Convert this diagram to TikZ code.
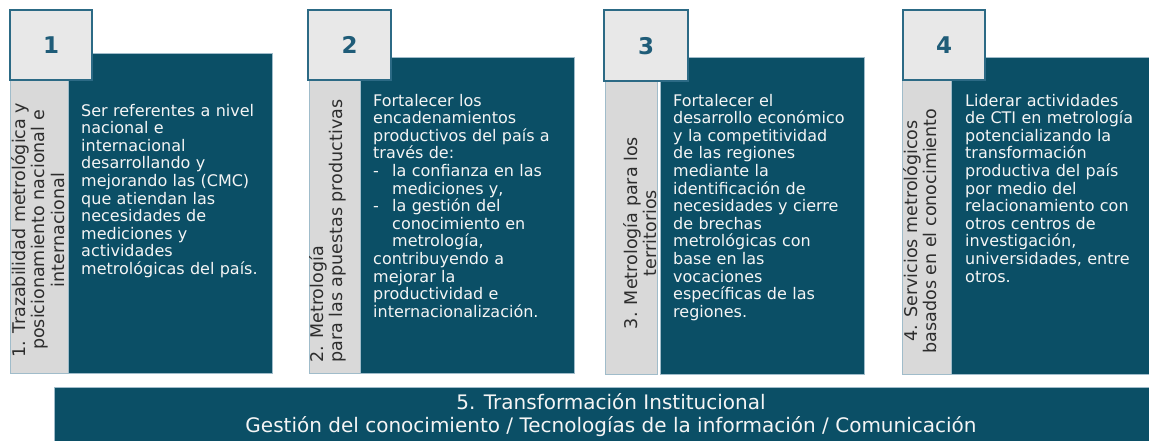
\documentclass[tikz,border=0pt]{standalone}
\usepackage{fontspec}
\setmainfont{DejaVu Sans}
\definecolor{darkteal}{RGB}{11,79,102}
\definecolor{numcol}{RGB}{31,92,120}
\definecolor{boxborder}{RGB}{44,106,133}
\definecolor{boxfill}{RGB}{232,232,232}
\definecolor{stripfill}{RGB}{217,217,217}
\definecolor{edgecol}{RGB}{160,188,202}
\definecolor{striptext}{RGB}{45,45,45}
\definecolor{bodytext}{RGB}{245,245,245}
\tikzset{
  darkpanel/.style={fill=darkteal, draw=edgecol, line width=0.8pt},
  strippanel/.style={fill=stripfill, draw=edgecol, line width=0.8pt},
  numbox/.style={fill=boxfill, draw=boxborder, line width=2.4pt},
  numtext/.style={text=numcol, font=\fontsize{23}{26}\selectfont\bfseries},
  bodynode/.style={anchor=base west, inner sep=0pt, text width=205pt, align=left, text=bodytext, font=\fontsize{16}{17.6}\selectfont},
  stripnode/.style={rotate=90, inner sep=0pt, text=striptext, font=\fontsize{17.5}{19.5}\selectfont},
  barnode/.style={inner sep=0pt, align=center, text=bodytext, font=\fontsize{20}{23.5}\selectfont}
}
\begin{document}
\begin{tikzpicture}[x=1pt,y=-1pt]
\useasboundingbox (0,0) rectangle (1149,440);
\fill[white] (0,0) rectangle (1149,440);

% Panel 1
\path[darkpanel] (68,53) rectangle (272,373);
\path[strippanel] (10,79) rectangle (68,373);
\node[numbox, minimum width=82pt, minimum height=70pt, anchor=north west] (b1) at (9,9) {};
\node[numtext] (n1) at (b1.center) {1};
\node[stripnode, align=center] (s1) at (38,230) {1. Trazabilidad metrológica y\\ posicionamiento nacional e\\ internacional};
\node[bodynode] (t1) at (81,116) {Ser referentes a nivel\\ nacional e\\ internacional\\ desarrollando y\\ mejorando las (CMC)\\ que atiendan las\\ necesidades de\\ mediciones y\\ actividades\\ metrológicas del país.};

% Panel 2
\path[darkpanel] (360,57) rectangle (574,373);
\path[strippanel] (309,79) rectangle (360,373);
\node[numbox, minimum width=83pt, minimum height=70pt, anchor=north west] (b2) at (307,9) {};
\node[numtext] (n2) at (b2.center) {2};
\node[stripnode, align=left, anchor=west] (s2) at (328,363) {2. Metrología\\ para las apuestas productivas};
\node[bodynode] (t2) at (373,106) {Fortalecer los\\ encadenamientos\\ productivos del país a\\ través de:\\ \makebox[19pt][l]{-}la confianza en las\\ \hspace*{19pt}mediciones y,\\ \makebox[19pt][l]{-}la gestión del\\ \hspace*{19pt}conocimiento en\\ \hspace*{19pt}metrología,\\ contribuyendo a\\ mejorar la\\ productividad e\\ internacionalización.};

% Panel 3
\path[darkpanel] (660,57) rectangle (864,374);
\path[strippanel] (605,79) rectangle (657,374);
\node[numbox, minimum width=84pt, minimum height=71pt, anchor=north west] (b3) at (603,9) {};
\node[numtext] (n3) at (b3.center) {3};
\node[stripnode, align=center] (s3) at (640,233) {3. Metrología para los\\ territorios};
\node[bodynode] (t3) at (673,106) {Fortalecer el\\ desarrollo económico\\ y la competitividad\\ de las regiones\\ mediante la\\ identificación de\\ necesidades y cierre\\ de brechas\\ metrológicas con\\ base en las\\ vocaciones\\ específicas de las\\ regiones.};

% Panel 4
\path[darkpanel] (951,57) rectangle (1152,374);
\path[strippanel] (902,79) rectangle (951,374);
\node[numbox, minimum width=82pt, minimum height=70pt, anchor=north west] (b4) at (902,9) {};
\node[numtext] (n4) at (b4.center) {4};
\node[stripnode, align=center] (s4) at (920,231) {4. Servicios metrológicos\\ basados en el conocimiento};
\node[bodynode] (t4) at (965,106) {Liderar actividades\\ de CTI en metrología\\ potencializando la\\ transformación\\ productiva del país\\ por medio del\\ relacionamiento con\\ otros centros de\\ investigación,\\ universidades, entre\\ otros.};

% Bottom bar
\path[darkpanel] (54,387) rectangle (1152,443);
\node[barnode] (bar) at (611,415) {5. Transformación Institucional\\ Gestión del conocimiento / Tecnologías de la información / Comunicación};
\end{tikzpicture}
\end{document}
